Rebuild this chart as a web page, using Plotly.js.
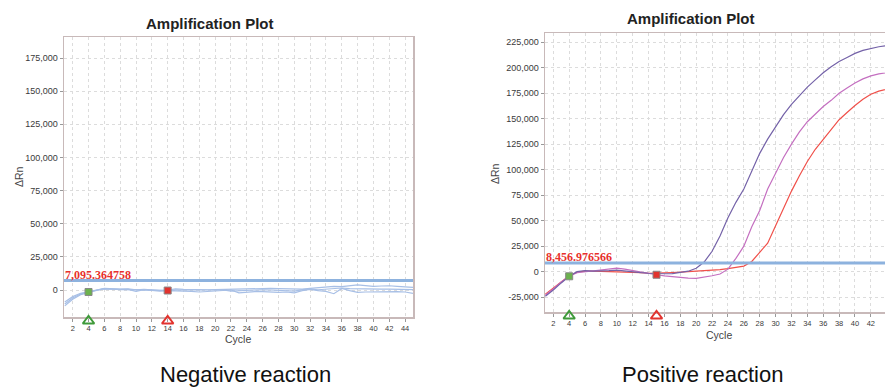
<!DOCTYPE html>
<html>
<head>
<meta charset="utf-8">
<script src="https://cdn.plot.ly/plotly-3.0.1.min.js"></script>
<style>html,body{margin:0;padding:0;background:#fff;}#chart{width:885px;height:388px;}</style>
</head>
<body>
<div id="chart"></div>
<script>
// ---------- data ----------
const cycles = [1,2,3,4,5,6,7,8,9,10,11,12,13,14,15,16,17,18,19,20,21,22,23,24,25,26,27,28,29,30,31,32,33,34,35,36,37,38,39,40,41,42,43,44,45];

// Negative reaction (three wells, light blue)
const negA = [-9000,-5000,-2500,-1000,0,1200,800,600,800,200,500,0,-200,0,800,500,300,500,200,300,500,500,600,900,1000,1300,1200,1000,1000,800,600,1200,1800,2500,2800,2500,3200,3800,3300,2800,3000,3200,2800,2200,2000];
const negB = [-12000,-7000,-3500,-1800,-300,1000,500,300,500,-1000,300,-500,-800,-500,-500,-800,-1000,-1500,-1200,-1000,-800,0,-2200,-1500,-1300,-1300,-1600,-1800,-1500,-2200,-500,500,-500,-1000,-2800,1200,-500,-1800,-1500,-1300,-1500,-1000,-1200,-1500,-2500];
const negC = [-10500,-6000,-3000,-1500,-200,900,700,500,400,100,200,-300,-500,-400,0,0,-300,-200,0,-300,0,-800,-500,-300,0,200,0,-300,-500,-800,300,600,200,500,700,1500,1000,800,600,500,600,700,600,500,300];

// Positive reaction
const posPurple = [-24000,-18000,-11000,-4500,0,1000,500,500,1000,1500,500,-500,-1000,-1500,-2000,-2000,-1800,-1000,500,3300,9500,20000,35000,53000,68000,81000,98000,116000,130000,142000,154000,164000,173000,181000,188000,195000,201000,206000,210000,214000,217000,219000,220500,221500,222000];
const posMagenta = [-23000,-17000,-10000,-4500,-1000,0,1000,1500,2500,3500,2500,1000,-500,-2000,-3000,-4000,-5000,-5800,-6300,-6500,-5500,-4000,-2300,2500,13000,25000,44000,60000,81000,97000,112000,125000,137000,147000,155000,162000,168000,175000,180000,185000,189000,192000,194000,195000,196000];
const posRed = [-22000,-16000,-9500,-4000,-500,500,500,300,200,0,0,-500,-1000,-1500,-1500,-1000,-800,-500,0,300,600,1200,2000,3000,4000,5500,10000,19000,28000,45000,62000,79000,94000,108000,120000,130000,140000,149000,156000,163000,169000,174000,177000,179000,181000];

const negThreshold = 7095.364758;
const posThreshold = 8456.976566;
const negBaseline = [4, 14];
const posBaseline = [4, 15];

const negYTicks = [0,25000,50000,75000,100000,125000,150000,175000];
const posYTicks = [-25000,0,25000,50000,75000,100000,125000,150000,175000,200000,225000];
const xTicks = [2,4,6,8,10,12,14,16,18,20,22,24,26,28,30,32,34,36,38,40,42,44];

// ---------- styling ----------
const W = 885, H = 388;
const px = v => v / W, py = v => 1 - v / H;
const negXRange = [0.9, 45], negYRange = [-20370, 190870];
const posXRange = [0.955, 43.78], posYRange = [-39800, 234000];
const cNeg = '#a7bfe6', cPurple = '#7462a8', cMag = '#c46fc0', cRed = '#f0504a';
const thrColor = '#8db2de';
const gridCol = '#dcdcdc', borderCol = '#c8b9b9';
const SANS = 'Liberation Sans, Arial, sans-serif';
const tickFont = {family: SANS, size: 9, color: '#3a3a3a'};
const xTickFont = {family: SANS, size: 7.5, color: '#3a3a3a'};
const cStart = '#3f9a3a', cEnd = '#e2332e';

const valAt = (arr, c) => arr[cycles.indexOf(c)];

function line(y, color, xa, ya) {
  return {x: cycles, y: y, type: 'scatter', mode: 'lines', line: {color: color, width: 1.2},
          xaxis: xa, yaxis: ya, hoverinfo: 'skip', showlegend: false};
}
function marker(x, y, color, symbol, size, xa, ya, lw, lc) {
  return {x: x, y: y, type: 'scatter', mode: 'markers', cliponaxis: false,
          marker: {color: color, symbol: symbol, size: size, line: {width: lw || 1, color: lc || '#777'}},
          xaxis: xa, yaxis: ya, hoverinfo: 'skip', showlegend: false};
}

const traces = [
  line(negA, cNeg, 'x', 'y'),
  line(negB, cNeg, 'x', 'y'),
  line(negC, cNeg, 'x', 'y'),
  marker([negBaseline[0]], [valAt(negC, negBaseline[0])], '#6cb24e', 'square', 7, 'x', 'y', 1, '#888'),
  marker([negBaseline[1]], [valAt(negC, negBaseline[1])], '#e2332e', 'square', 7, 'x', 'y', 1, '#888'),
  marker([negBaseline[0]], [0.5], cStart, 'triangle-up-open', 10, 'x3', 'y3', 2, cStart),
  marker([negBaseline[1]], [0.5], cEnd, 'triangle-up-open', 10, 'x3', 'y3', 2, cEnd),

  line(posRed, cRed, 'x2', 'y2'),
  line(posMagenta, cMag, 'x2', 'y2'),
  line(posPurple, cPurple, 'x2', 'y2'),
  marker([posBaseline[0]], [valAt(posPurple, posBaseline[0])], '#6cb24e', 'square', 7, 'x2', 'y2', 1, '#888'),
  marker([posBaseline[1]], [valAt(posMagenta, posBaseline[1])], '#e2332e', 'square', 7, 'x2', 'y2', 1, '#888'),
  marker([posBaseline[0]], [0.5], cStart, 'triangle-up-open', 10, 'x4', 'y4', 2, cStart),
  marker([posBaseline[1]], [0.5], cEnd, 'triangle-up-open', 10, 'x4', 'y4', 2, cEnd)
];

function xaxis(domain, range, anchor, mirror) {
  return {domain: domain, range: range, anchor: anchor, tickvals: xTicks, ticktext: xTicks.map(String),
          tickfont: xTickFont, ticks: 'outside', ticklen: 3, tickcolor: '#999',
          showgrid: true, gridcolor: gridCol, griddash: 'dot', gridwidth: 1,
          zeroline: false, showline: true, linecolor: borderCol, linewidth: 1.5, mirror: mirror,
          fixedrange: true};
}
function yaxis(domain, range, anchor, ticks, mirror) {
  return {domain: domain, range: range, anchor: anchor, tickvals: ticks,
          ticktext: ticks.map(v => v.toLocaleString('en-US')),
          tickfont: tickFont, ticks: 'outside', ticklen: 3, tickcolor: '#999',
          showgrid: true, gridcolor: gridCol, griddash: 'dot', gridwidth: 1,
          zeroline: false, showline: true, linecolor: borderCol, linewidth: 1.5, mirror: mirror,
          fixedrange: true};
}
function hiddenAxis(domain, range, anchor) {
  return {domain: domain, range: range, anchor: anchor, visible: false, showgrid: false,
          zeroline: false, fixedrange: true};
}

const layout = {
  width: W, height: H,
  margin: {l: 0, r: 0, t: 0, b: 0},
  paper_bgcolor: '#fff', plot_bgcolor: 'rgba(0,0,0,0)',
  showlegend: false,
  xaxis: xaxis([px(64), px(413)], negXRange, 'y', true),
  yaxis: yaxis([py(317), py(37)], negYRange, 'x', negYTicks, true),
  xaxis2: xaxis([px(545), 1], posXRange, 'y2', true),
  yaxis2: yaxis([py(312.3), py(33)], posYRange, 'x2', posYTicks, false),
  // thin strips under the plots for the baseline start / end triangles
  xaxis3: hiddenAxis([px(64), px(413)], negXRange, 'y3'),
  yaxis3: hiddenAxis([py(328), py(314)], [0, 1], 'x3'),
  xaxis4: hiddenAxis([px(545), 1], posXRange, 'y4'),
  yaxis4: hiddenAxis([py(323), py(309)], [0, 1], 'x4'),
  shapes: [
    {type: 'line', xref: 'x domain', yref: 'y', x0: 0, x1: 1, y0: negThreshold, y1: negThreshold,
     line: {color: thrColor, width: 3}},
    {type: 'line', xref: 'x2 domain', yref: 'y2', x0: 0, x1: 1, y0: posThreshold, y1: posThreshold,
     line: {color: thrColor, width: 3}}
  ],
  annotations: [
    {text: '<b>Amplification Plot</b>', xref: 'paper', yref: 'paper', x: px(210), y: py(23),
     xanchor: 'center', yanchor: 'middle', showarrow: false,
     font: {family: SANS, size: 15, color: '#222'}},
    {text: '<b>Amplification Plot</b>', xref: 'paper', yref: 'paper', x: px(691), y: py(18),
     xanchor: 'center', yanchor: 'middle', showarrow: false,
     font: {family: SANS, size: 15, color: '#222'}},
    {text: 'ΔRn', xref: 'paper', yref: 'paper', x: px(19), y: py(177), textangle: -90,
     xanchor: 'center', yanchor: 'middle', showarrow: false,
     font: {family: SANS, size: 10.5, color: '#444'}},
    {text: 'ΔRn', xref: 'paper', yref: 'paper', x: px(495), y: py(173), textangle: -90,
     xanchor: 'center', yanchor: 'middle', showarrow: false,
     font: {family: SANS, size: 10.5, color: '#444'}},
    {text: 'Cycle', xref: 'paper', yref: 'paper', x: px(238), y: py(339),
     xanchor: 'center', yanchor: 'middle', showarrow: false,
     font: {family: SANS, size: 10.5, color: '#444'}},
    {text: 'Cycle', xref: 'paper', yref: 'paper', x: px(719), y: py(335),
     xanchor: 'center', yanchor: 'middle', showarrow: false,
     font: {family: SANS, size: 10.5, color: '#444'}},
    {text: negThreshold.toLocaleString('en-US', {minimumFractionDigits: 6}), xref: 'x', yref: 'y',
     x: negXRange[0], y: negThreshold, xanchor: 'left', yanchor: 'bottom', yshift: -2, showarrow: false,
     borderpad: 0,
     font: {family: 'Liberation Serif, Times New Roman, serif', size: 12, color: '#e8302c', weight: 'bold'}},
    {text: posThreshold.toLocaleString('en-US', {minimumFractionDigits: 6}), xref: 'x2', yref: 'y2',
     x: posXRange[0], y: posThreshold, xanchor: 'left', yanchor: 'bottom', yshift: -2, showarrow: false,
     borderpad: 0,
     font: {family: 'Liberation Serif, Times New Roman, serif', size: 12, color: '#e8302c', weight: 'bold'}},
    {text: 'Negative reaction', xref: 'paper', yref: 'paper', x: px(245), y: py(374),
     xanchor: 'center', yanchor: 'middle', showarrow: false, borderpad: 0,
     font: {family: SANS, size: 22, color: '#111'}},
    {text: 'Positive reaction', xref: 'paper', yref: 'paper', x: px(702), y: py(374),
     xanchor: 'center', yanchor: 'middle', showarrow: false, borderpad: 0,
     font: {family: SANS, size: 22, color: '#111'}}
  ]
};

Plotly.newPlot('chart', traces, layout, {staticPlot: true, displayModeBar: false});
</script>
</body>
</html>
